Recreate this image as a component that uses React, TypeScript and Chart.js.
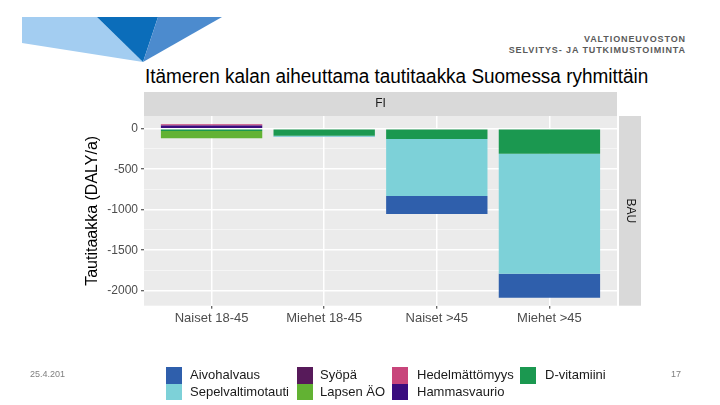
import React, { useEffect, useRef } from 'react';
import { Chart, registerables } from 'chart.js';

Chart.register(...registerables);

// Age/sex groups on the x axis
const categories = ['Naiset 18-45', 'Miehet 18-45', 'Naiset >45', 'Miehet >45'];

// Disease burden per outcome (DALY/a), one value per group
const aivohalvaus = [0, -3, -222, -296];
const sepelvaltimotauti = [0, -12, -704, -1481];
const syopa = [0, 0, 0, 0];
const lapsenAO = [-90, 0, 0, 0];
const hedelmattomyys = [14, 0, 0, 0];
const hammasvaurio = [40, 0, 0, 0];
const dVitamiini = [-29, -88, -128, -309];

// Axis breaks
const yMajorTicks = [-2000, -1500, -1000, -500, 0];
const yMinorTicks = [-1750, -1250, -750, -250];
const yMin = -2185;
const yMax = 157;

// Facet labels
const facetColumn = 'FI';
const facetRow = 'BAU';

const COLORS = {
  aivohalvaus: '#2F5FAC',
  sepelvaltimotauti: '#7DD1D8',
  syopa: '#571A5A',
  lapsenAO: '#62B233',
  hedelmattomyys: '#C8457B',
  hammasvaurio: '#3A0C7E',
  dVitamiini: '#1B9850',
};

// Stack order: first dataset sits next to the zero line
const series = [
  { label: 'D-vitamiini', data: dVitamiini, color: COLORS.dVitamiini },
  { label: 'Hammasvaurio', data: hammasvaurio, color: COLORS.hammasvaurio },
  { label: 'Hedelmättömyys', data: hedelmattomyys, color: COLORS.hedelmattomyys },
  { label: 'Lapsen ÄO', data: lapsenAO, color: COLORS.lapsenAO },
  { label: 'Syöpä', data: syopa, color: COLORS.syopa },
  { label: 'Sepelvaltimotauti', data: sepelvaltimotauti, color: COLORS.sepelvaltimotauti },
  { label: 'Aivohalvaus', data: aivohalvaus, color: COLORS.aivohalvaus },
];

// Legend columns (two rows each)
const legendColumns = [
  { keyX: 166, textX: 190, items: [['Aivohalvaus', COLORS.aivohalvaus], ['Sepelvaltimotauti', COLORS.sepelvaltimotauti]] },
  { keyX: 297, textX: 320, items: [['Syöpä', COLORS.syopa], ['Lapsen ÄO', COLORS.lapsenAO]] },
  { keyX: 392, textX: 417, items: [['Hedelmättömyys', COLORS.hedelmattomyys], ['Hammasvaurio', COLORS.hammasvaurio]] },
  { keyX: 520, textX: 545, items: [['D-vitamiini', COLORS.dVitamiini]] },
];

const FONT = '"Liberation Sans", Arial, Helvetica, sans-serif';

// Grey panel background and facet strips
const panelPlugin = {
  id: 'panelStrips',
  beforeDraw(chart: any) {
    const { ctx, chartArea: a } = chart;
    ctx.save();
    ctx.fillStyle = '#EBEBEB';
    ctx.fillRect(a.left, a.top, a.right - a.left, a.bottom - a.top);
    ctx.fillStyle = '#D9D9D9';
    ctx.fillRect(a.left, a.top - 24, a.right - a.left, 24);
    ctx.fillRect(a.right + 2, a.top, 22, a.bottom - a.top);
    ctx.fillStyle = '#1A1A1A';
    ctx.font = `12px ${FONT}`;
    ctx.textAlign = 'center';
    ctx.textBaseline = 'middle';
    ctx.fillText(facetColumn, (a.left + a.right) / 2, a.top - 12);
    ctx.translate(a.right + 13, (a.top + a.bottom) / 2);
    ctx.rotate(Math.PI / 2);
    ctx.fillText(facetRow, 0, 0);
    ctx.restore();
  },
};

export default function App() {
  const canvasRef = useRef<HTMLCanvasElement>(null);

  useEffect(() => {
    const canvas = canvasRef.current;
    if (!canvas) return;
    const chart = new Chart(canvas, {
      type: 'bar',
      data: {
        datasets: series.map((s) => ({
          label: s.label,
          data: s.data.map((v, i) => ({ x: i, y: v })),
          backgroundColor: s.color,
          borderWidth: 0,
          barPercentage: 0.9,
          categoryPercentage: 1,
        })),
      },
      options: {
        responsive: false,
        animation: false,
        devicePixelRatio: 1,
        layout: { padding: { left: 80, right: 103, top: 116, bottom: 69.3 } },
        plugins: {
          legend: { display: false },
          title: { display: false },
          tooltip: { enabled: false },
        },
        scales: {
          x: {
            type: 'linear',
            stacked: true,
            offset: false,
            min: -0.6,
            max: 3.6,
            afterBuildTicks: (s: any) => {
              s.ticks = categories.map((_, i) => ({ value: i }));
            },
            afterFit: (s: any) => {
              s.height = 30;
            },
            ticks: {
              autoSkip: false,
              maxRotation: 0,
              padding: 2,
              color: '#4D4D4D',
              font: { family: FONT, size: 13 },
              callback: (_v: any, i: number) => categories[i],
            },
            grid: {
              offset: false,
              color: '#FFFFFF',
              lineWidth: 1.5,
              tickColor: '#333333',
              tickLength: 3,
              tickWidth: 1,
            },
            border: { display: false },
          },
          y: {
            type: 'linear',
            stacked: true,
            min: yMin,
            max: yMax,
            afterBuildTicks: (s: any) => {
              s.ticks = [...yMinorTicks, ...yMajorTicks]
                .sort((a, b) => a - b)
                .map((v) => ({ value: v }));
            },
            afterFit: (s: any) => {
              s.width = 64;
            },
            ticks: {
              autoSkip: false,
              padding: 3,
              color: '#4D4D4D',
              font: { family: FONT, size: 12 },
              callback: (v: any) => (yMajorTicks.includes(v) ? String(v) : ''),
            },
            grid: {
              color: (c: any) => (yMajorTicks.includes(c.tick?.value) ? '#FFFFFF' : 'rgba(255,255,255,0.65)'),
              lineWidth: (c: any) => (yMajorTicks.includes(c.tick?.value) ? 1.5 : 0.8),
              tickColor: (c: any) => (yMajorTicks.includes(c.tick?.value) ? '#333333' : 'rgba(0,0,0,0)'),
              tickLength: 3,
              tickWidth: 1,
            },
            border: { display: false },
            title: {
              display: true,
              text: 'Tautitaakka (DALY/a)',
              color: '#000000',
              font: { family: FONT, size: 16 },
              padding: { top: 3, bottom: 0 },
            },
          },
        },
      },
      plugins: [panelPlugin],
    } as any);
    return () => chart.destroy();
  }, []);

  return (
    <div
      style={{
        position: 'fixed',
        left: 0,
        top: 0,
        width: 720,
        height: 405,
        background: '#FFFFFF',
        overflow: 'hidden',
        fontFamily: FONT,
      }}
    >
      <svg width={720} height={80} style={{ position: 'absolute', left: 0, top: 0 }}>
        <polygon points="22,17 97,17 143,62 22,43" fill="#A3CDF1" />
        <polygon points="97,17 158,17 143,62" fill="#0B6DBA" />
        <polygon points="158,17 222,17 143,62" fill="#4C8BCE" />
      </svg>
      <div
        style={{
          position: 'absolute',
          right: 34,
          top: 34,
          textAlign: 'right',
          fontSize: 9,
          lineHeight: '11px',
          letterSpacing: 0.9,
          fontWeight: 'bold',
          color: '#5A5A5A',
        }}
      >
        <div>VALTIONEUVOSTON</div>
        <div>SELVITYS- JA TUTKIMUSTOIMINTA</div>
      </div>
      <div
        style={{
          position: 'absolute',
          left: 145,
          top: 64,
          fontSize: 20,
          lineHeight: '24px',
          whiteSpace: 'nowrap',
          color: '#000000',
          transform: 'scaleX(0.947)',
          transformOrigin: 'left center',
        }}
      >
        Itämeren kalan aiheuttama tautitaakka Suomessa ryhmittäin
      </div>
      <canvas ref={canvasRef} width={720} height={405} style={{ position: 'absolute', left: 0, top: 0 }} />
      {legendColumns.map((col) =>
        col.items.map(([name, color], r) => (
          <React.Fragment key={name}>
            <div
              style={{
                position: 'absolute',
                left: col.keyX,
                top: 367 + r * 16.5,
                width: 15.5,
                height: 16.5,
                background: color,
              }}
            />
            <div
              style={{
                position: 'absolute',
                left: col.textX,
                top: 367 + r * 16.5,
                height: 16.5,
                lineHeight: '16.5px',
                fontSize: 13,
                color: '#1A1A1A',
                whiteSpace: 'nowrap',
              }}
            >
              {name}
            </div>
          </React.Fragment>
        ))
      )}
      <div
        style={{
          position: 'absolute',
          left: 30,
          top: 369,
          width: 35,
          overflow: 'hidden',
          fontSize: 9,
          color: '#7F7F7F',
          whiteSpace: 'nowrap',
        }}
      >
        25.4.2018
      </div>
      <div style={{ position: 'absolute', left: 671, top: 369, fontSize: 9, color: '#7F7F7F' }}>17</div>
    </div>
  );
}
